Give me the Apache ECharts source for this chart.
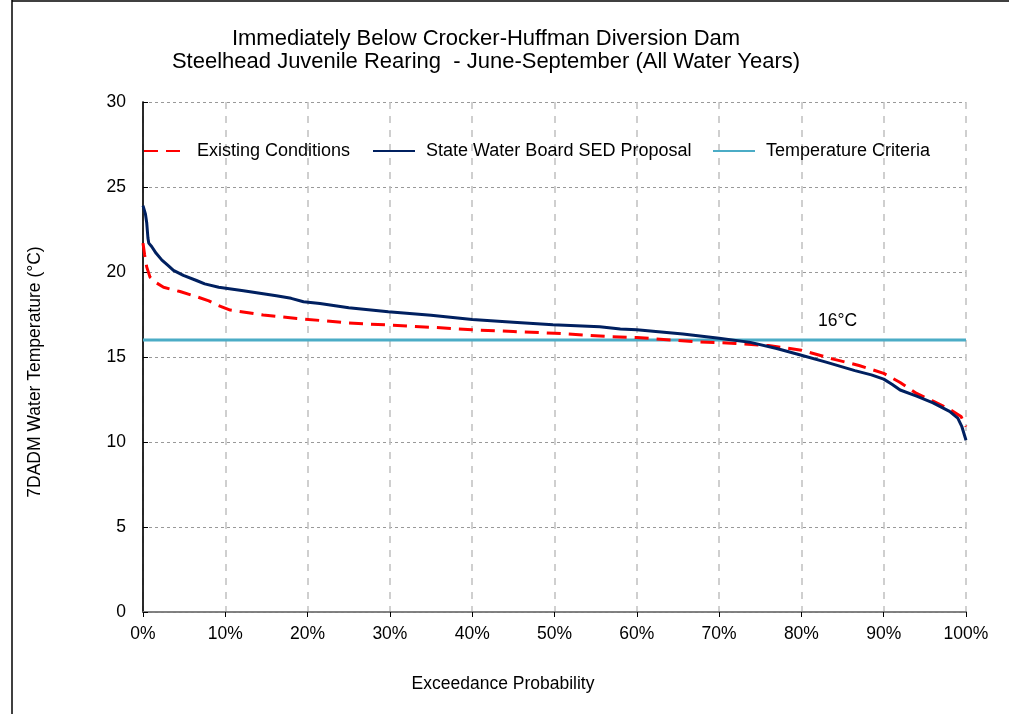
<!DOCTYPE html>
<html>
<head>
<meta charset="utf-8">
<script src="https://cdn.jsdelivr.net/npm/echarts@6/dist/echarts.min.js"></script>
<style>
html,body{margin:0;padding:0;background:#fff;}
#chart{width:1009px;height:714px;}
</style>
</head>
<body>
<div id="chart"></div>
<script>
// Data (x = exceedance probability in %, y = 7DADM temperature in °C)
const titleLines = ['Immediately Below Crocker-Huffman Diversion Dam', 'Steelhead Juvenile Rearing  - June-September (All Water Years)'];
const seriesNames = ['Existing Conditions', 'State Water Board SED Proposal', 'Temperature Criteria'];
const existingX = [0,0.2,0.45,0.85,1.5,2.5,4.5,6.5,8,9,10.6,14.6,18.7,21.5,25,29.8,35,40,45,50,56.7,60,67,72,76,80,84,87,90,92,94,96,97.8,99.4,100];
const existingY = [21.7,21.0,20.3,19.7,19.4,19.1,18.85,18.55,18.3,18.06,17.76,17.47,17.27,17.15,17.0,16.88,16.75,16.6,16.5,16.4,16.2,16.15,15.9,15.8,15.67,15.4,14.86,14.5,14.04,13.5,12.86,12.4,11.98,11.5,10.9];
const proposalX = [0,0.3,0.45,0.6,0.7,1.05,1.6,2.3,3.0,3.7,4.9,6.5,7.5,9.2,12.2,16.2,18,19.5,21.5,25,29.8,35,40,45,49.8,55.5,58,60,65.6,70,73.8,77,80,83,86.5,88.5,90,91,92,94,96,98,99,99.5,100];
const proposalY = [23.9,23.4,22.9,22.0,21.7,21.5,21.1,20.7,20.4,20.1,19.8,19.5,19.3,19.1,18.9,18.6,18.45,18.25,18.15,17.9,17.66,17.45,17.2,17.05,16.9,16.78,16.65,16.6,16.35,16.1,15.86,15.5,15.1,14.7,14.2,13.95,13.7,13.4,13.06,12.7,12.3,11.8,11.4,10.9,10.1];
const criteriaX = [0, 100];
const criteriaY = [16, 16];
const criteriaLabel = '16°C';
const criteriaLabelX = 84.4;
const xAxisName = 'Exceedance Probability';
const yAxisName = '7DADM Water Temperature (°C)';

const zip = (xs, ys) => xs.map((x, i) => [x, ys[i]]);
const FONT = 'Liberation Sans, Arial, sans-serif';

const chart = echarts.init(document.getElementById('chart'), null, {renderer: 'canvas'});
const legendBase = {
  top: 142, itemWidth: 42, itemHeight: 18, padding: 0,
  itemStyle: {opacity: 0},
  textStyle: {fontFamily: FONT, fontSize: 18, color: '#000', padding: [0, 0, 0, 6]},
  selectedMode: false
};
chart.setOption({
  animation: false,
  backgroundColor: '#fff',
  title: {
    text: titleLines.join('\n'),
    left: 481, top: 22, textAlign: 'center',
    textStyle: {fontFamily: FONT, fontSize: 22, fontWeight: 'normal', color: '#000', lineHeight: 23}
  },
  legend: [
    Object.assign({}, legendBase, {left: 143, data: [seriesNames[0]]}),
    Object.assign({}, legendBase, {left: 372, data: [seriesNames[1]]}),
    Object.assign({}, legendBase, {left: 712, data: [seriesNames[2]]})
  ],
  grid: {left: 143, right: 43, top: 102, bottom: 102, containLabel: false},
  xAxis: [{
    type: 'value', min: 0, max: 100, interval: 10,
    axisLine: {show: true, lineStyle: {color: '#000', width: 1.5}},
    axisTick: {show: true, length: 5, lineStyle: {color: '#000'}},
    axisLabel: {formatter: '{value}%', fontFamily: FONT, fontSize: 17.5, color: '#000', margin: 13},
    splitLine: {show: true, lineStyle: {color: '#c0c0c0', type: [7, 7], width: 1.5}}
  }, {
    type: 'value', min: 0, max: 100, position: 'top',
    axisLine: {show: true, lineStyle: {color: '#999', width: 1.5}},
    axisTick: {show: false}, axisLabel: {show: false}, splitLine: {show: false}
  }],
  yAxis: [{
    type: 'value', min: 0, max: 30, interval: 5,
    axisLine: {show: true, lineStyle: {color: '#888', width: 1.5}},
    axisTick: {show: false},
    axisLabel: {fontFamily: FONT, fontSize: 17.5, color: '#000', margin: 17},
    splitLine: {show: true, lineStyle: {color: '#999', type: [3, 3], width: 1}}
  }, {
    type: 'value', min: 0, max: 30, interval: 5, position: 'right',
    axisLine: {show: true, lineStyle: {color: '#000', width: 1.5}},
    axisTick: {show: true, inside: false, length: 5, lineStyle: {color: '#000'}},
    axisLabel: {show: false}, splitLine: {show: false}
  }],
  series: [{
    name: seriesNames[2], type: 'line', data: zip(criteriaX, criteriaY),
    symbol: 'none', z: 2, color: '#4BACC6',
    lineStyle: {color: '#4BACC6', width: 3},
    markPoint: {
      symbol: 'circle', symbolSize: 0,
      label: {show: true, position: 'top', distance: 10, formatter: criteriaLabel,
        fontFamily: FONT, fontSize: 17.5, color: '#000'},
      data: [{coord: [criteriaLabelX, criteriaY[0]]}]
    }
  }, {
    name: seriesNames[0], type: 'line', data: zip(existingX, existingY),
    symbol: 'none', z: 3, color: '#FF0000',
    lineStyle: {color: '#FF0000', width: 3, type: [14, 8]}
  }, {
    name: seriesNames[1], type: 'line', data: zip(proposalX, proposalY),
    symbol: 'none', z: 4, color: '#002060',
    lineStyle: {color: '#002060', width: 3}
  }],
  graphic: [
    {type: 'line', shape: {x1: 12, y1: 0, x2: 12, y2: 714}, style: {stroke: '#000', lineWidth: 1.5}},
    {type: 'line', shape: {x1: 12, y1: 1, x2: 1009, y2: 1}, style: {stroke: '#000', lineWidth: 1.5}},
    {type: 'text', x: 503, y: 684, style: {text: xAxisName, fontFamily: FONT, fontSize: 17.5, fill: '#000', textAlign: 'center', textVerticalAlign: 'middle'}},
    {type: 'text', x: 35, y: 372, rotation: Math.PI / 2, style: {text: yAxisName, fontFamily: FONT, fontSize: 17.5, fill: '#000', textAlign: 'center', textVerticalAlign: 'middle'}}
  ]
});
</script>
</body>
</html>
